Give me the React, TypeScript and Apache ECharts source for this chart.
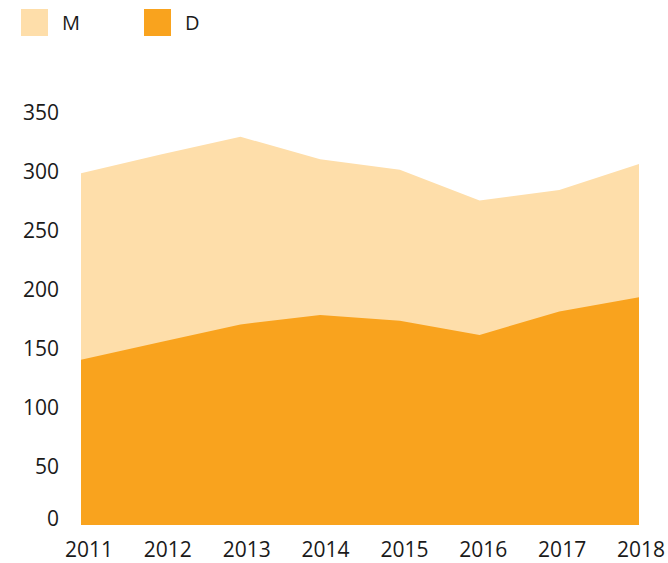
import React, { useEffect, useRef } from "react";
import * as echarts from "echarts";

const years = ["2011", "2012", "2013", "2014", "2015", "2016", "2017", "2018"];
const mValues = [298, 314, 329, 310, 301, 275, 284, 306];
const dValues = [140, 155, 170, 178, 173, 161, 181, 193];
const seriesNames = ["M", "D"];
const colorM = "#FEDEAA";
const colorD = "#F9A31E";
const font = "'Open Sans', sans-serif";

export default function App() {
  const ref = useRef<HTMLDivElement>(null);
  useEffect(() => {
    if (!ref.current) return;
    const chart = echarts.init(ref.current, null, { renderer: "svg" });
    chart.setOption({
      animation: false,
      textStyle: { fontFamily: font },
      legend: {
        left: 21,
        top: 9,
        padding: 0,
        itemWidth: 27,
        itemHeight: 27,
        itemGap: 64,
        icon: "rect",
        data: seriesNames,
        textStyle: { fontFamily: font, fontSize: 20, color: "#1a1a1a", padding: [0, 0, 0, 9] },
      },
      grid: [
        { left: 81, right: 29, top: 112, bottom: 38 },
        { left: 89, right: 27, top: 112, bottom: 38 },
      ],
      xAxis: [
        {
          type: "category",
          gridIndex: 0,
          data: years,
          boundaryGap: false,
          axisLine: { show: false },
          axisTick: { show: false },
          axisLabel: { show: false },
        },
        {
          type: "category",
          gridIndex: 1,
          data: years,
          boundaryGap: false,
          axisLine: { show: false },
          axisTick: { show: false },
          axisLabel: { fontFamily: font, fontSize: 21, color: "#1a1a1a", margin: 13 },
        },
      ],
      yAxis: [
        {
          type: "value",
          gridIndex: 0,
          min: 0,
          max: 350,
          interval: 50,
          splitLine: { show: false },
          axisLine: { show: false },
          axisTick: { show: false },
          axisLabel: {
            fontFamily: font,
            fontSize: 21,
            lineHeight: 14,
            color: "#1a1a1a",
            margin: 22,
            verticalAlignMinLabel: "bottom",
          },
        },
        {
          type: "value",
          gridIndex: 1,
          min: 0,
          max: 350,
          interval: 50,
          show: false,
        },
      ],
      series: [
        {
          name: "M",
          type: "line",
          data: mValues,
          symbol: "none",
          lineStyle: { width: 0 },
          itemStyle: { color: colorM },
          areaStyle: { color: colorM, opacity: 1 },
        },
        {
          name: "D",
          type: "line",
          data: dValues,
          symbol: "none",
          lineStyle: { width: 0 },
          itemStyle: { color: colorD },
          areaStyle: { color: colorD, opacity: 1 },
        },
      ],
    });
    return () => chart.dispose();
  }, []);
  return (
    <div
      ref={ref}
      style={{ position: "fixed", left: 0, top: 0, width: 668, height: 563, background: "#fff" }}
    />
  );
}
